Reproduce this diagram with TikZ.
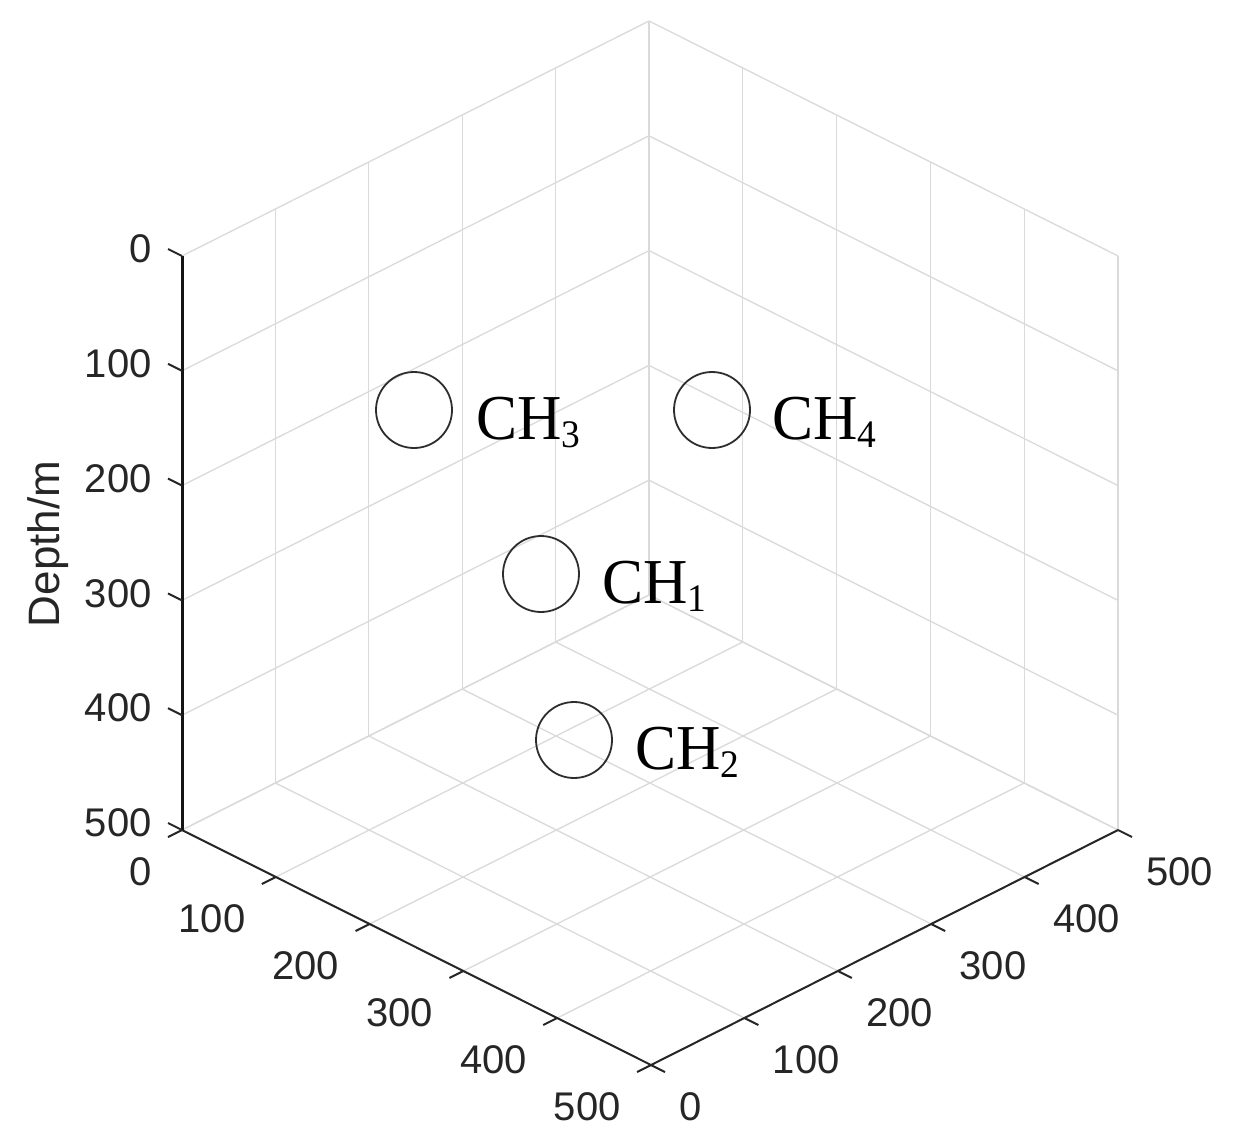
\documentclass[tikz,border=0pt]{standalone}
\usepackage{fontspec}
\usetikzlibrary{calc}
\setmainfont{Liberation Serif}
\newfontfamily\axfont{Liberation Sans}
\definecolor{gridgray}{RGB}{218,218,218}
\definecolor{axgray}{RGB}{38,38,38}
\definecolor{wellgray}{RGB}{45,45,45}
\newcommand{\wellsub}[1]{\raisebox{-0.136em}{\fontsize{19.5}{22}\selectfont #1}}
\begin{document}
\begin{tikzpicture}[x=0.5pt,y=-0.5pt,
  gridln/.style={draw=gridgray, line width=0.65pt},
  axln/.style={draw=axgray, line width=1pt},
  zaxln/.style={draw=black!92, line width=1.5pt},
  ticklbl/.style={font=\axfont\fontsize{20}{24}\selectfont, text=axgray, inner sep=0pt},
  axtitle/.style={font=\axfont\fontsize{22}{26}\selectfont, text=axgray, inner sep=0pt, rotate=90},
  well/.style={circle, draw=wellgray, line width=0.9pt, minimum size=38pt, inner sep=0pt},
  welllbl/.style={font=\fontsize{32}{36}\selectfont, inner sep=0pt, anchor=base west, xscale=0.96}]
\path[fill=white, use as bounding box] (0,0) rectangle (1235,1144);
% grid
\foreach \k in {0,...,5} {
  \pgfmathsetmacro\s{\k*100}
  \draw[gridln] ({182+0.934*\s},{830-0.47*\s}) -- ++(0,-574);
  \draw[gridln] ({649+0.938*\s},{595+0.47*\s}) -- ++(0,-574);
  \draw[gridln] (182,{256+1.148*\s}) -- ++(467,-235);
  \draw[gridln] (649,{21+1.148*\s}) -- ++(469,235);
  \draw[gridln] ({182+0.938*\s},{830+0.47*\s}) -- ++(467,-235);
  \draw[gridln] ({182+0.934*\s},{830-0.47*\s}) -- ++(469,235);
}
% axes
\coordinate (zTop) at (182,256);
\coordinate (L) at (182,830);
\coordinate (F) at (651,1065);
\coordinate (R) at (1118,830);
\draw[axln] (L) -- (F) -- (R);
\draw[zaxln] (zTop) -- (L);
\foreach \k in {0,...,5} {
  \pgfmathsetmacro\s{\k*100}
  \pgfmathtruncatemacro\lbl{\k*100}
  \coordinate (zt\k) at (182,{256+1.148*\s});
  \coordinate (ut\k) at ({182+0.938*\s},{830+0.47*\s});
  \coordinate (vt\k) at ({651+0.934*\s},{1065-0.47*\s});
  \draw[axln] (zt\k) -- ++(-14,-7);
  \draw[axln] (ut\k) -- ++(-14,7);
  \draw[axln] (vt\k) -- ++(14,7);
  \node[ticklbl, anchor=east] (zl\k) at ($(zt\k)+(-30,-7)$) {\lbl};
  \node[ticklbl, anchor=east] (ul\k) at ($(ut\k)+(-30,42)$) {\lbl};
  \node[ticklbl, anchor=west] (vl\k) at ($(vt\k)+(28,42)$) {\lbl};
}
\node[axtitle] (ztitle) at (48,544) {Depth/m};
% wells
\node[well] (w3) at (414,410) {};
\node[well] (w4) at (712,410) {};
\node[well] (w1) at (541,574) {};
\node[well] (w2) at (574,740) {};
\node[welllbl] (t3) at (476,439) {CH\wellsub{3}};
\node[welllbl] (t4) at (772,439) {CH\wellsub{4}};
\node[welllbl] (t1) at (602,603) {CH\wellsub{1}};
\node[welllbl] (t2) at (635,769) {CH\wellsub{2}};
\end{tikzpicture}
\end{document}
